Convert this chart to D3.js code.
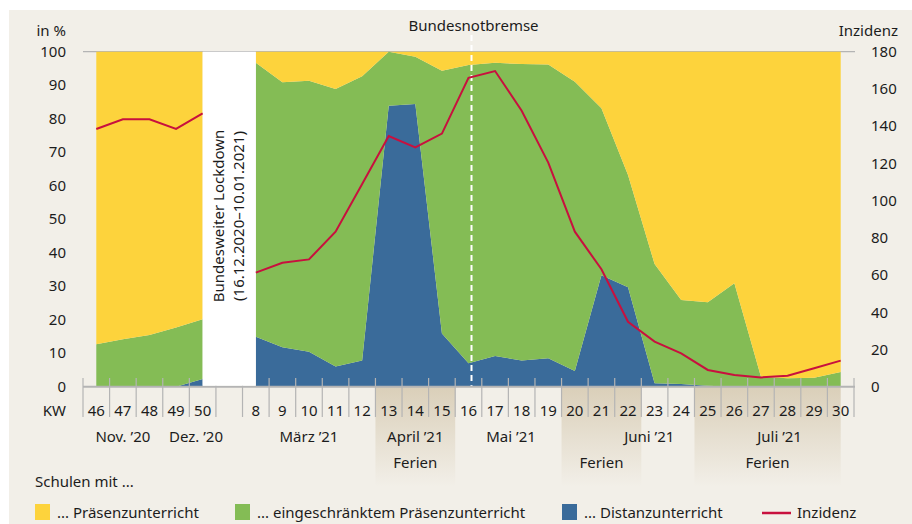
<!DOCTYPE html>
<html>
<head>
<meta charset="utf-8">
<script src="https://cdn.jsdelivr.net/npm/d3@7"></script>
<style>
  html, body { margin: 0; padding: 0; background: #fff; }
  svg { display: block; font-family: "Noto Sans", "Open Sans", sans-serif; }
  text { fill: #1c1c1c; }
</style>
</head>
<body>
<svg id="chart" width="912" height="524"></svg>
<script>
// ─── Data ─────────────────────────────────────────────────────────────────────
// calendar weeks; "" is the gap for the lockdown
const weeks = ["46", "47", "48", "49", "50", "", "8", "9", "10", "11", "12", "13", "14", "15",
               "16", "17", "18", "19", "20", "21", "22", "23", "24", "25", "26", "27", "28", "29", "30"];

// shares of schools in %, null = no data (lockdown)
const distanz       = [0, 0, 0, 0, 2.3, null, 14.9, 11.8, 10.4, 6.0, 7.8, 83.9, 84.4, 15.9,
                       7.0, 9.2, 7.8, 8.5, 4.7, 33.3, 29.7, 1.0, 0.8, 0.3, 0, 0, 0, 0, 0];
const eingeschraenkt = [12.7, 14.2, 15.4, 17.7, 17.8, null, 81.8, 79.1, 80.9, 82.9, 84.9, 16.1, 14.1, 78.4,
                       89.0, 87.5, 88.5, 87.7, 86.3, 49.8, 33.5, 35.6, 25.1, 24.9, 30.9, 3.0, 2.5, 2.7, 4.4];
const praesenz      = distanz.map((d, i) => d == null ? null : +(100 - d - eingeschraenkt[i]).toFixed(1));

// 7-day incidence
const inzidenz = [138.5, 143.7, 143.7, 138.5, 146.9, null, 61.3, 66.6, 68.4, 83.3, 108.9, 134.7, 128.6, 136.0,
                  166.0, 169.6, 148.3, 120.4, 83.3, 63.1, 34.9, 24.2, 17.9, 9.0, 6.3, 5.0, 5.9, 9.9, 14.0];

const leftTicks  = [0, 10, 20, 30, 40, 50, 60, 70, 80, 90, 100];
const rightTicks = [0, 20, 40, 60, 80, 100, 120, 140, 160, 180];

const months = [
    { label: "Nov. ’20",  at: "47" },
    { label: "Dez. ’20",  at: "49", shift: 0.75 },
    { label: "März ’21",  at: "10" },
    { label: "April ’21", at: "14" },
    { label: "Mai ’21",   at: "18", shift: -0.4 },
    { label: "Juni ’21",  at: "23", shift: -0.2 },
    { label: "Juli ’21",  at: "28", shift: -0.3 },
];
// holiday spans; the summer one stops at the middle of the last week
const ferien = [["13", "15", 1], ["20", "22", 1], ["25", "30", 0.5]];

const legendItems = [
    { label: "... Präsenzunterricht",              color: "#fdd33c", x: 35 },
    { label: "... eingeschränktem Präsenzunterricht", color: "#84bc55", x: 235 },
    { label: "... Distanzunterricht",              color: "#3a6b9a", x: 562 },
];

// ─── Setup ────────────────────────────────────────────────────────────────────
const svg = d3.select("#chart");
const COL = { bg: "#f2efe8", yellow: "#fdd33c", green: "#84bc55", blue: "#3a6b9a", red: "#c8103e", grid: "#b4b4b4" };

const x = d3.scaleBand().domain(weeks).range([83, 854]).padding(0);
const cx = w => x(w) + x.bandwidth() / 2;
const y  = d3.scaleLinear().domain([0, 100]).range([386.7, 51.7]);
const y2 = d3.scaleLinear().domain([0, 180]).range([386.7, 51.7]);

// background
svg.append("rect").attr("x", 9).attr("y", 10).attr("width", 903).attr("height", 514).attr("fill", COL.bg);

// holiday shading below axis
const defs = svg.append("defs");
const grad = defs.append("linearGradient").attr("id", "ferienGrad")
    .attr("x1", 0).attr("y1", 0).attr("x2", 0).attr("y2", 1);
grad.append("stop").attr("offset", "0%").attr("stop-color", "#dacfb9");
grad.append("stop").attr("offset", "100%").attr("stop-color", COL.bg);

ferien.forEach(([a, b, f]) => {
    const x0 = x(a), x1 = x(b) + x.bandwidth() * f;
    svg.append("rect")
        .attr("x", x0).attr("y", y(0))
        .attr("width", x1 - x0).attr("height", 100)
        .attr("fill", "url(#ferienGrad)");
    svg.append("text")
        .attr("x", (x0 + x1) / 2).attr("y", 468)
        .attr("text-anchor", "middle").attr("font-size", 15)
        .text("Ferien");
});

// top line
svg.append("line").attr("x1", 83).attr("x2", 855).attr("y1", y(100)).attr("y2", y(100))
    .attr("stroke", COL.grid).attr("stroke-width", 1.2);

// ─── Stacked areas ────────────────────────────────────────────────────────────
const rows = weeks.map((w, i) => ({ w, distanz: distanz[i], eingeschraenkt: eingeschraenkt[i], praesenz: praesenz[i] }));
const keys = ["distanz", "eingeschraenkt", "praesenz"];
const colors = { distanz: COL.blue, eingeschraenkt: COL.green, praesenz: COL.yellow };
const stacked = d3.stack().keys(keys).value((d, k) => d[k] ?? 0)(rows);

const area = d3.area()
    .defined(d => d.data.distanz != null)
    .x(d => cx(d.data.w))
    .y0(d => y(d[0]))
    .y1(d => y(d[1]));

svg.append("g").selectAll("path").data(stacked).join("path")
    .attr("d", area)
    .attr("fill", d => colors[d.key]);

// axis ticks (between weeks)
const tickXs = weeks.map(w => x(w)).concat([x.range()[1]]);
svg.append("g").selectAll("line").data(tickXs).join("line")
    .attr("x1", d => d).attr("x2", d => d)
    .attr("y1", 378).attr("y2", 417)
    .attr("stroke", COL.grid).attr("stroke-width", 1.2);

svg.append("line").attr("x1", 83).attr("x2", 855).attr("y1", y(0)).attr("y2", y(0))
    .attr("stroke", COL.grid).attr("stroke-width", 2);

// lockdown box
const lx0 = cx("50"), lx1 = cx("8");
svg.append("rect").attr("x", lx0).attr("y", y(100)).attr("width", lx1 - lx0).attr("height", y(0) - y(100) - 1)
    .attr("fill", "#fff");
const lt = svg.append("text").attr("transform", `translate(${(lx0 + lx1) / 2},216) rotate(-90)`)
    .attr("text-anchor", "middle").attr("font-size", 15);
lt.append("tspan").attr("x", 0).attr("dy", "-0.35em").text("Bundesweiter Lockdown");
lt.append("tspan").attr("x", 0).attr("dy", "1.35em").text("(16.12.2020–10.01.2021)");

// Bundesnotbremse marker
svg.append("line").attr("x1", cx("16") + 3).attr("x2", cx("16") + 3).attr("y1", 35).attr("y2", y(0) - 1)
    .attr("stroke", "#fff").attr("stroke-width", 2).attr("stroke-dasharray", "6,4");
svg.append("text").attr("x", cx("16") + 5).attr("y", 31).attr("text-anchor", "middle")
    .attr("font-size", 15).text("Bundesnotbremse");

// incidence line
const line = d3.line()
    .defined(d => d.v != null)
    .x(d => cx(d.w))
    .y(d => y2(d.v));
svg.append("path")
    .datum(weeks.map((w, i) => ({ w, v: inzidenz[i] })))
    .attr("d", line)
    .attr("fill", "none").attr("stroke", COL.red).attr("stroke-width", 2).attr("stroke-linejoin", "miter");

// ─── Axes labels ──────────────────────────────────────────────────────────────
svg.append("g").selectAll("text").data(leftTicks).join("text")
    .attr("x", 66).attr("y", d => y(d)).attr("dy", "0.35em")
    .attr("text-anchor", "end").attr("font-size", 15).text(d => d);
svg.append("g").selectAll("text").data(rightTicks).join("text")
    .attr("x", 871).attr("y", d => y2(d)).attr("dy", "0.35em")
    .attr("font-size", 15).text(d => d);

svg.append("text").attr("x", 66).attr("y", 36).attr("text-anchor", "end").attr("font-size", 15).text("in %");
svg.append("text").attr("x", 898).attr("y", 36).attr("text-anchor", "end").attr("font-size", 15).text("Inzidenz");

svg.append("text").attr("x", 66).attr("y", 416).attr("text-anchor", "end").attr("font-size", 15).text("KW");
svg.append("g").selectAll("text").data(weeks.filter(w => w)).join("text")
    .attr("x", d => cx(d)).attr("y", 416).attr("text-anchor", "middle")
    .attr("font-size", 15).text(d => d);

svg.append("g").selectAll("text").data(months).join("text")
    .attr("x", d => cx(d.at) + (d.shift || 0) * x.bandwidth()).attr("y", 442)
    .attr("text-anchor", "middle").attr("font-size", 15).text(d => d.label);

// ─── Legend ───────────────────────────────────────────────────────────────────
svg.append("text").attr("x", 35).attr("y", 487).attr("font-size", 15).text("Schulen mit ...");
const lg = svg.append("g").selectAll("g").data(legendItems).join("g")
    .attr("transform", d => `translate(${d.x},0)`);
lg.append("rect").attr("y", 504).attr("width", 15).attr("height", 16).attr("fill", d => d.color);
lg.append("text").attr("x", 22).attr("y", 518).attr("font-size", 15).text(d => d.label);

svg.append("line").attr("x1", 762).attr("x2", 791).attr("y1", 513).attr("y2", 513)
    .attr("stroke", COL.red).attr("stroke-width", 2.5);
svg.append("text").attr("x", 797).attr("y", 518).attr("font-size", 15).text("Inzidenz");
</script>
</body>
</html>
